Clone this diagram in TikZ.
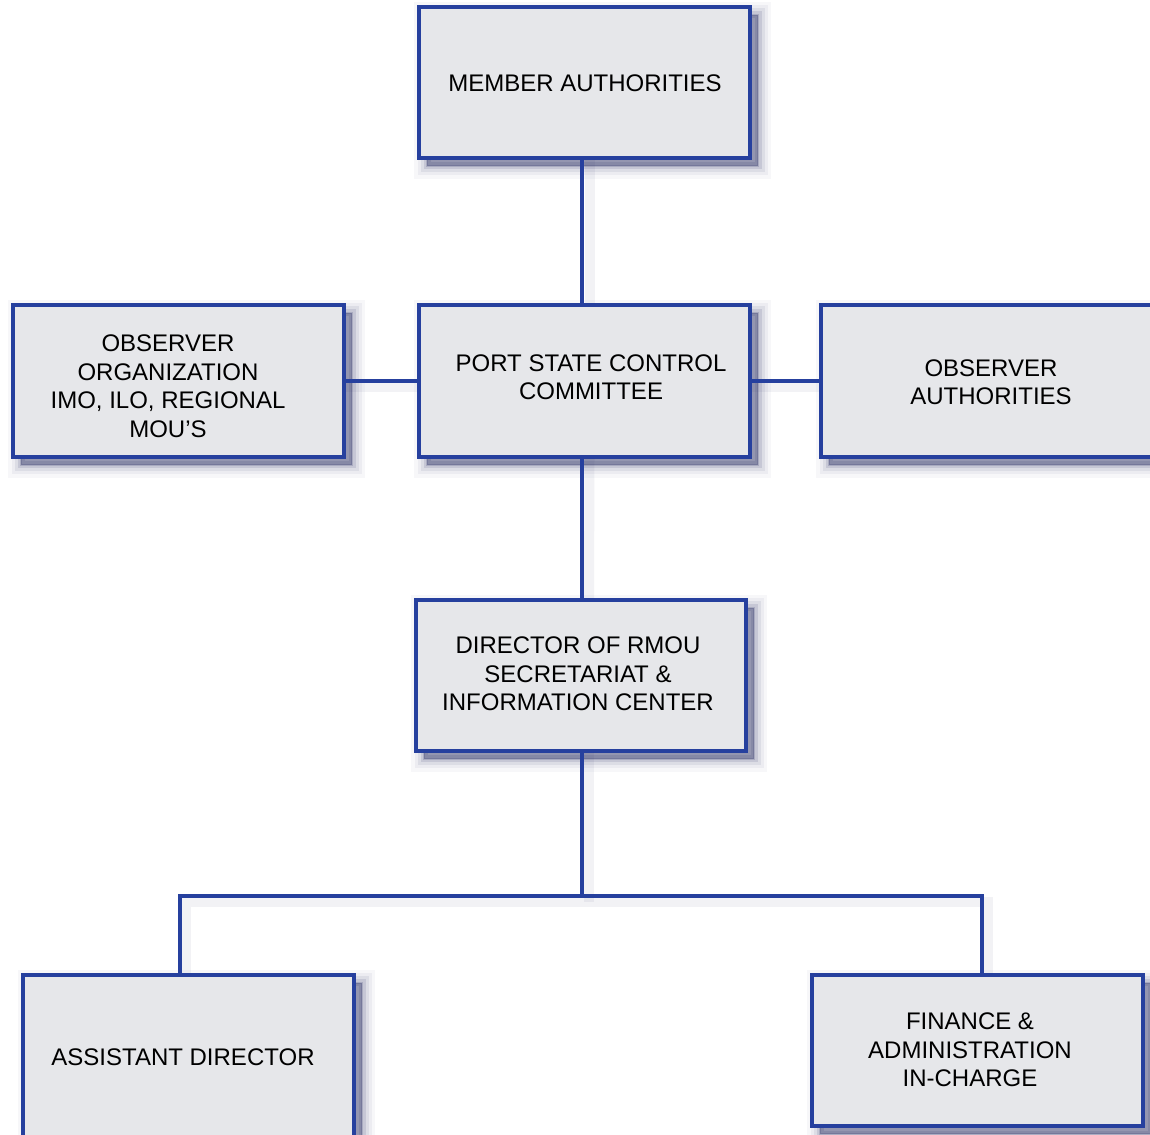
\documentclass[tikz,border=0pt]{standalone}
\usepackage{fontspec}
\setmainfont{Liberation Sans}
\definecolor{bdr}{RGB}{38,64,158}
\definecolor{boxfill}{RGB}{230,231,234}
\definecolor{shcol}{RGB}{40,45,100}
\begin{document}
\begin{tikzpicture}[x=1pt,y=1pt,
  softshadow/.style={
    preaction={draw=shcol, line width=26pt, draw opacity=0.035, fill=shcol, fill opacity=0.035, transform canvas={shift={(8pt,-8pt)}}},
    preaction={draw=shcol, line width=19pt, draw opacity=0.05, fill=shcol, fill opacity=0.05, transform canvas={shift={(8pt,-8pt)}}},
    preaction={draw=shcol, line width=13pt, draw opacity=0.08, fill=shcol, fill opacity=0.08, transform canvas={shift={(8pt,-8pt)}}},
    preaction={draw=shcol, line width=7pt, draw opacity=0.12, fill=shcol, fill opacity=0.12, transform canvas={shift={(8pt,-8pt)}}},
    preaction={draw=shcol, line width=2pt, draw opacity=0.18, fill=shcol, fill opacity=0.18, transform canvas={shift={(8pt,-8pt)}}}},
  orgbox/.style={softshadow, draw=bdr, line width=3.2pt, fill=boxfill,
    minimum width=331pt, minimum height=151pt, inner sep=0pt},
  lbl/.style={align=center, inner sep=0pt, font=\fontsize{24}{28.5}\selectfont},
  link/.style={draw=bdr, line width=3.2pt},
  linkshadow/.style={draw=shcol, line width=10pt, opacity=0.06}]
\useasboundingbox (0,0) rectangle (1150,1134);
\fill[white] (0,0) rectangle (1150,1134);
\coordinate (bus) at (582,238);
% boxes
\node[orgbox] (member) at (584.5,1051.5) {};
\node[orgbox, minimum height=152pt] (obsorg) at (178.5,753) {};
\node[orgbox, minimum height=152pt] (psc) at (584.5,753) {};
\node[orgbox, minimum height=152pt, minimum width=340pt] (obsauth) at (991,753) {};
\node[orgbox, minimum width=330pt] (dir) at (581,458.5) {};
\node[orgbox, minimum height=165pt] (asst) at (188.5,76.5) {};
\node[orgbox] (fin) at (977.5,83.5) {};
% labels
\node[lbl] (memberT) at (585,1051) {MEMBER AUTHORITIES};
\node[lbl] (obsorgT) at (168,748) {OBSERVER\\ ORGANIZATION\\ IMO, ILO, REGIONAL\\ MOU’S};
\node[lbl] (pscT) at (591,757) {PORT STATE CONTROL\\ COMMITTEE};
\node[lbl] (obsauthT) at (991,752) {OBSERVER\\ AUTHORITIES};
\node[lbl] (dirT) at (578,460) {DIRECTOR OF RMOU\\ SECRETARIAT \&\\ INFORMATION CENTER};
\node[lbl] (asstT) at (183,77) {ASSISTANT DIRECTOR};
\node[lbl] (finT) at (970,84) {FINANCE \&\\ ADMINISTRATION\\ IN-CHARGE};
% connector shadows
\draw[linkshadow] ([xshift=5pt]member.south) -- ([xshift=5pt]psc.north);
\draw[linkshadow] ([xshift=5pt]psc.south) -- ([xshift=8pt]dir.north);
\draw[linkshadow] ([yshift=-6pt]obsorg.east) -- ([yshift=-6pt]psc.west);
\draw[linkshadow] ([yshift=-6pt]psc.east) -- ([yshift=-6pt]obsauth.west);
\draw[linkshadow] ([xshift=8pt]dir.south) -- ([xshift=7pt,yshift=-6pt]bus);
\draw[linkshadow] ([xshift=-2.5pt]asst.north) |- ([yshift=-6pt]bus) -| ([xshift=10.5pt]fin.north);
% connectors
\draw[link] ([xshift=-2.5pt]member.south) -- ([xshift=-2.5pt]psc.north);
\draw[link] ([xshift=-2.5pt]psc.south) -- ([xshift=1pt]dir.north);
\draw[link] (obsorg.east) -- (psc.west);
\draw[link] (psc.east) -- (obsauth.west);
\draw[link] ([xshift=1pt]dir.south) -- (bus);
\draw[link] ([xshift=-8.5pt]asst.north) |- (bus) -| ([xshift=4.5pt]fin.north);
\end{tikzpicture}
\end{document}
